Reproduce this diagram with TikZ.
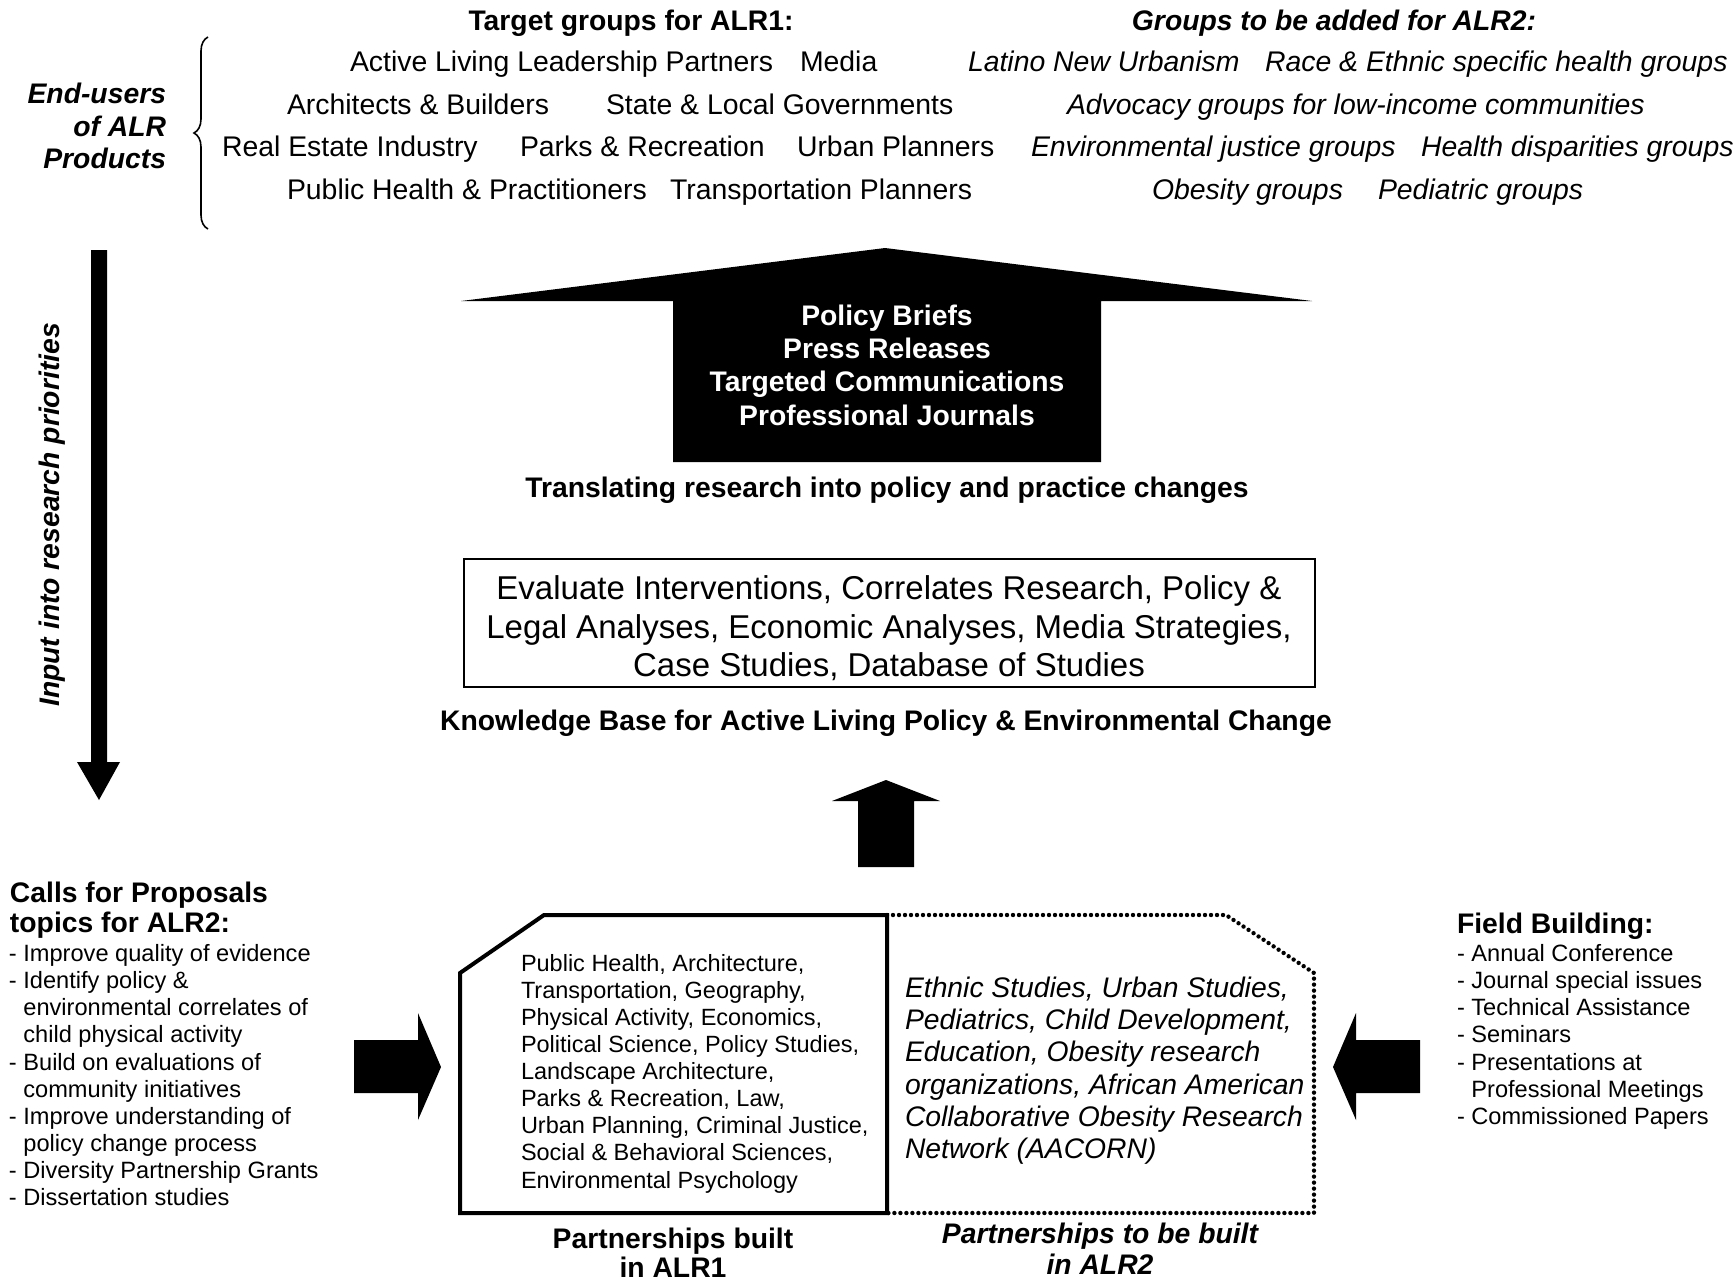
\documentclass[tikz,border=0pt]{standalone}
\usepackage{fontspec}
\setmainfont{Liberation Sans}
\usetikzlibrary{decorations.pathreplacing}
\begin{document}
\begin{tikzpicture}[x=0.5pt,y=-0.5pt,
  every node/.style={inner sep=0pt, outer sep=0pt},
  grp/.style={anchor=base west, font=\fontsize{14.2}{17}\selectfont},
  grpi/.style={anchor=base west, font=\fontsize{14.2}{17}\selectfont\itshape},
  hdr/.style={anchor=base, font=\fontsize{14.15}{17}\selectfont\bfseries},
  hdri/.style={anchor=base, font=\fontsize{14.15}{17}\selectfont\bfseries\itshape},
  blockarrow/.style={fill=black},
  sidehead/.style={anchor=north west, align=left, font=\fontsize{14.15}{15}\selectfont\bfseries},
  sidelist/.style={anchor=north west, align=left, font=\fontsize{11.8}{13.55}\selectfont},
]
\useasboundingbox (0,0) rectangle (1736,1280);

% ---------- headers ----------
\node[hdr]  (h1) at (631,30)  {Target groups for ALR1:};
\node[hdri] (h2) at (1334,30) {Groups to be added for ALR2:};

% ---------- ALR1 target groups ----------
\node[grp] (g11) at (350,71) {Active Living Leadership Partners};
\node[grp] (g12) at (800,71) {Media};
\node[grp] (g21) at (287,114) {Architects \& Builders};
\node[grp] (g22) at (606,114) {State \& Local Governments};
\node[grp] (g31) at (222,156) {Real Estate Industry};
\node[grp] (g32) at (520,156) {Parks \& Recreation};
\node[grp] (g33) at (797,156) {Urban Planners};
\node[grp] (g41) at (287,199) {Public Health \& Practitioners};
\node[grp] (g42) at (670,199) {Transportation Planners};

% ---------- ALR2 groups ----------
\node[grpi] (a11) at (968,71)  {Latino New Urbanism};
\node[grpi] (a12) at (1265,71) {Race \& Ethnic specific health groups};
\node[grpi] (a21) at (1067,114) {Advocacy groups for low-income communities};
\node[grpi] (a31) at (1031,156) {Environmental justice groups};
\node[grpi] (a32) at (1421,156) {Health disparities groups};
\node[grpi] (a41) at (1152,199) {Obesity groups};
\node[grpi] (a42) at (1378,199) {Pediatric groups};

% ---------- end users ----------
\node[anchor=north east, align=right, font=\fontsize{14.15}{16.25}\selectfont\bfseries\itshape]
  (endusers) at (166,83) {End-users\\of ALR\\Products};
\draw[line width=0.8pt, decorate, decoration={brace, amplitude=7pt}] (208,229) -- (208,37);

% ---------- left down arrow ----------
\fill[blockarrow] (91,250) -- (107,250) -- (107,762) -- (120,762) -- (99,800) -- (77,762) -- (91,762) -- cycle;
\node[rotate=90, font=\fontsize{14.15}{17}\selectfont\bfseries\itshape] (input) at (52,515)
  {Input into research priorities};

% ---------- big roof arrow ----------
\fill[blockarrow] (461,301) -- (885,248) -- (1312,301) -- (1101,301) -- (1101,462) -- (673,462) -- (673,301) -- cycle;
\node[anchor=north, align=center, text=white, font=\fontsize{14.15}{16.6}\selectfont\bfseries]
  (products) at (887,305) {Policy Briefs\\Press Releases\\Targeted Communications\\Professional Journals};
\node[hdr] (translating) at (887,497) {Translating research into policy and practice changes};

% ---------- knowledge box ----------
\node[draw, line width=0.8pt, minimum width=425.5pt, minimum height=64pt] (kbbox) at (889.5,623) {};
\node[anchor=north, align=center, font=\fontsize{16.5}{19.1}\selectfont]
  (kbtext) at (889,576) {Evaluate Interventions, Correlates Research, Policy \&\\Legal Analyses, Economic Analyses, Media Strategies,\\Case Studies, Database of Studies};
\node[hdr] (kb) at (886,730) {Knowledge Base for Active Living Policy \& Environmental Change};

% ---------- small up arrow ----------
\fill[blockarrow] (886,780) -- (940,801) -- (914,801) -- (914,867) -- (858,867) -- (858,801) -- (832,801) -- cycle;

% ---------- partnerships ----------
\draw[line width=2pt, line join=miter] (887,915) -- (544,915) -- (460,973) -- (460,1213) -- (887,1213) -- cycle;
\draw[line width=2.2pt, line cap=round, dash pattern=on 0pt off 3pt] (887,915) -- (1226,915) -- (1314,973) -- (1314,1213) -- (887,1213);
\node[anchor=north west, align=left, font=\fontsize{11.75}{13.56}\selectfont] (p1) at (521,954)
  {Public Health, Architecture,\\Transportation, Geography,\\Physical Activity, Economics,\\Political Science, Policy Studies,\\Landscape Architecture,\\Parks \& Recreation, Law,\\Urban Planning, Criminal Justice,\\Social \& Behavioral Sciences,\\Environmental Psychology};
\node[anchor=north west, align=left, font=\fontsize{14.15}{16.1}\selectfont\itshape] (p2) at (905,977)
  {Ethnic Studies, Urban Studies,\\Pediatrics, Child Development,\\Education, Obesity research\\organizations, African American\\Collaborative Obesity Research\\Network (AACORN)};
\node[anchor=north, align=center, font=\fontsize{14.15}{14.5}\selectfont\bfseries] (l1) at (673,1228)
  {Partnerships built\\in ALR1};
\node[anchor=north, align=center, font=\fontsize{14.15}{15.5}\selectfont\bfseries\itshape] (l2) at (1100,1223)
  {Partnerships to be built\\in ALR2};

% ---------- side arrows ----------
\fill[blockarrow] (354,1040) -- (418,1040) -- (418,1013) -- (441,1067) -- (418,1120) -- (418,1093) -- (354,1093) -- cycle;
\fill[blockarrow] (1420,1040) -- (1356,1040) -- (1356,1013) -- (1333,1067) -- (1356,1120) -- (1356,1093) -- (1420,1093) -- cycle;

% ---------- calls for proposals ----------
\node[sidehead] (calls) at (10,882) {Calls for Proposals\\topics for ALR2:};
\node[sidelist] (callslist) at (9,944.5)
  {- Improve quality of evidence\\
   - Identify policy \&\\
   \hphantom{- }environmental correlates of\\
   \hphantom{- }child physical activity\\
   - Build on evaluations of\\
   \hphantom{- }community initiatives\\
   - Improve understanding of\\
   \hphantom{- }policy change process\\
   - Diversity Partnership Grants\\
   - Dissertation studies};

% ---------- field building ----------
\node[sidehead] (field) at (1457,913) {Field Building:};
\node[sidelist] (fieldlist) at (1457,944.5)
  {- Annual Conference\\
   - Journal special issues\\
   - Technical Assistance\\
   - Seminars\\
   - Presentations at\\
   \hphantom{- }Professional Meetings\\
   - Commissioned Papers};
\end{tikzpicture}
\end{document}
